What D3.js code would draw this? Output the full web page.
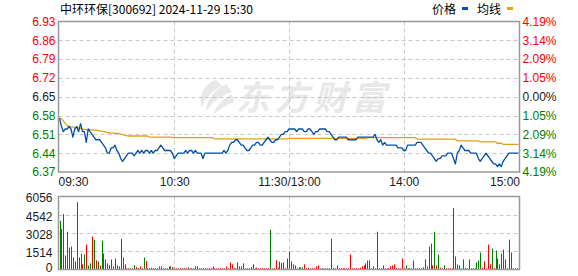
<!DOCTYPE html>
<html>
<head>
<meta charset="utf-8">
<script src="https://cdn.jsdelivr.net/npm/d3@7"></script>
<style>
  body { margin: 0; background: #fff; }
  svg { display: block; }
  text { font-family: "Liberation Sans", Arial, sans-serif; font-size: 12px; }
</style>
</head>
<body>
<svg id="svg" width="578" height="276"></svg>
<script>
// data (one value per minute, 241 minutes)
const TITLE = "中环环保[300692] 2024-11-29 15:30";
const PREV_CLOSE = 6.65;
const priceTicks = [6.93, 6.86, 6.79, 6.72, 6.65, 6.58, 6.51, 6.44, 6.37];
const pctTicks = ["4.19%", "3.14%", "2.09%", "1.05%", "0.00%", "1.05%", "2.09%", "3.14%", "4.19%"];
const volTicks = [0, 1514, 3028, 4542, 6056];
const timeIdx = [0, 60, 120, 180, 240];
const timeLabels = ["09:30", "10:30", "11:30/13:00", "14:00", "15:00"];

const price = [
  6.57, 6.54, 6.52, 6.53, 6.53, 6.54, 6.53, 6.50, 6.53, 6.54,
  6.52, 6.55, 6.52, 6.52, 6.48, 6.53, 6.52, 6.51, 6.50, 6.49,
  6.49, 6.49, 6.48, 6.47, 6.46, 6.44, 6.44, 6.46, 6.46, 6.47,
  6.45, 6.44, 6.42, 6.41, 6.42, 6.43, 6.44, 6.44, 6.44, 6.43,
  6.44, 6.45, 6.44, 6.45, 6.44, 6.45, 6.45, 6.44, 6.45, 6.44,
  6.45, 6.45, 6.46, 6.47, 6.46, 6.45, 6.45, 6.45, 6.45, 6.44,
  6.42, 6.43, 6.44, 6.44, 6.44, 6.44, 6.45, 6.44, 6.45, 6.45,
  6.44, 6.45, 6.44, 6.44, 6.44, 6.42, 6.44, 6.44, 6.44, 6.44,
  6.44, 6.44, 6.44, 6.44, 6.44, 6.44, 6.45, 6.44, 6.45, 6.47,
  6.48, 6.48, 6.49, 6.49, 6.48, 6.47, 6.47, 6.46, 6.45, 6.45,
  6.46, 6.47, 6.47, 6.48, 6.48, 6.47, 6.47, 6.48, 6.49, 6.50,
  6.49, 6.48, 6.48, 6.49, 6.49, 6.50, 6.51, 6.51, 6.52, 6.52,
  6.53, 6.53, 6.53, 6.53, 6.52, 6.53, 6.53, 6.53, 6.52, 6.52,
  6.53, 6.53, 6.52, 6.51, 6.52, 6.52, 6.53, 6.53, 6.53, 6.53,
  6.52, 6.52, 6.51, 6.50, 6.49, 6.49, 6.50, 6.50, 6.50, 6.50,
  6.50, 6.49, 6.49, 6.49, 6.49, 6.49, 6.50, 6.50, 6.50, 6.50,
  6.50, 6.50, 6.50, 6.50, 6.50, 6.51, 6.49, 6.48, 6.49, 6.47,
  6.48, 6.47, 6.47, 6.47, 6.47, 6.47, 6.47, 6.46, 6.46, 6.46,
  6.45, 6.45, 6.47, 6.47, 6.47, 6.47, 6.47, 6.48, 6.48, 6.48,
  6.47, 6.46, 6.45, 6.44, 6.44, 6.43, 6.42, 6.41, 6.42, 6.42,
  6.43, 6.43, 6.43, 6.44, 6.44, 6.44, 6.42, 6.40, 6.44, 6.45,
  6.47, 6.46, 6.45, 6.45, 6.45, 6.44, 6.44, 6.44, 6.44, 6.42,
  6.41, 6.42, 6.43, 6.44, 6.43, 6.42, 6.41, 6.40, 6.40, 6.39,
  6.40, 6.39, 6.41, 6.42, 6.43, 6.44, 6.44, 6.44, 6.44, 6.44, 6.44
];

const avgPrice = [
  6.571, 6.568, 6.560, 6.550, 6.543, 6.540, 6.538, 6.538, 6.536, 6.535,
  6.534, 6.532, 6.530, 6.528, 6.528, 6.528, 6.528, 6.527, 6.526, 6.526,
  6.525, 6.523, 6.522, 6.521, 6.519, 6.517, 6.516, 6.515, 6.515, 6.514,
  6.514, 6.514, 6.511, 6.509, 6.507, 6.505, 6.504, 6.504, 6.504, 6.504,
  6.504, 6.504, 6.504, 6.504, 6.504, 6.504, 6.504, 6.500, 6.500, 6.500,
  6.500, 6.500, 6.500, 6.500, 6.500, 6.500, 6.500, 6.500, 6.500, 6.498,
  6.498, 6.498, 6.498, 6.498, 6.498, 6.498, 6.498, 6.498, 6.498, 6.498,
  6.498, 6.498, 6.498, 6.498, 6.498, 6.498, 6.498, 6.498, 6.498, 6.498,
  6.498, 6.493, 6.493, 6.493, 6.493, 6.493, 6.493, 6.493, 6.493, 6.493,
  6.493, 6.493, 6.493, 6.493, 6.493, 6.493, 6.493, 6.493, 6.493, 6.493,
  6.493, 6.493, 6.493, 6.493, 6.493, 6.493, 6.493, 6.493, 6.493, 6.493,
  6.493, 6.493, 6.493, 6.493, 6.493, 6.493, 6.493, 6.493, 6.493, 6.493,
  6.495, 6.495, 6.495, 6.495, 6.495, 6.495, 6.495, 6.495, 6.495, 6.495,
  6.495, 6.495, 6.495, 6.495, 6.495, 6.495, 6.495, 6.495, 6.495, 6.495,
  6.495, 6.495, 6.495, 6.495, 6.495, 6.495, 6.495, 6.495, 6.495, 6.495,
  6.495, 6.495, 6.495, 6.495, 6.495, 6.495, 6.495, 6.495, 6.495, 6.495,
  6.495, 6.498, 6.498, 6.498, 6.498, 6.498, 6.498, 6.498, 6.498, 6.498,
  6.498, 6.498, 6.498, 6.498, 6.498, 6.498, 6.498, 6.498, 6.498, 6.498,
  6.498, 6.498, 6.498, 6.498, 6.498, 6.498, 6.498, 6.492, 6.492, 6.492,
  6.492, 6.492, 6.492, 6.492, 6.492, 6.492, 6.492, 6.492, 6.492, 6.492,
  6.492, 6.492, 6.492, 6.492, 6.492, 6.492, 6.492, 6.492, 6.486, 6.486,
  6.486, 6.486, 6.486, 6.486, 6.486, 6.486, 6.486, 6.486, 6.486, 6.486,
  6.482, 6.482, 6.482, 6.482, 6.482, 6.482, 6.482, 6.482, 6.482, 6.477,
  6.477, 6.477, 6.473, 6.473, 6.473, 6.473, 6.473, 6.473, 6.473, 6.473, 6.473
];

const volume = [
  4040, 3360, 4590, 1130, 3110, 1790, 1870, 960, 630, 5580,
  960, 1290, 390, 1210, 2040, 280, 470, 2700, 2450, 720,
  630, 300, 2370, 1290, 800, 470, 330, 800, 220, 880,
  300, 220, 2530, 960, 390, 60, 60, 60, 60, 330,
  160, 80, 220, 60, 960, 660, 60, 80, 110, 60,
  60, 60, 220, 220, 60, 60, 60, 220, 220, 160,
  60, 60, 60, 60, 60, 60, 60, 140, 60, 60,
  60, 220, 220, 60, 60, 60, 60, 60, 60, 60,
  220, 60, 60, 30, 60, 60, 60, 220, 60, 550,
  385, 60, 60, 550, 220, 220, 470, 60, 60, 60,
  165, 385, 60, 110, 60, 60, 60, 60, 60, 60,
  3270, 60, 60, 715, 110, 630, 500, 550, 60, 880,
  1460, 630, 385, 300, 60, 140, 140, 140, 385, 60,
  110, 60, 60, 60, 220, 300, 60, 60, 60, 60,
  60, 60, 2530, 110, 60, 300, 60, 60, 60, 60,
  60, 60, 1210, 60, 60, 60, 60, 110, 220, 300,
  470, 715, 715, 60, 220, 60, 3110, 60, 60, 300,
  60, 60, 60, 220, 300, 385, 60, 60, 60, 880,
  60, 300, 60, 60, 60, 715, 60, 60, 60, 60,
  140, 800, 220, 1870, 2120, 300, 3110, 300, 1210, 110,
  60, 300, 60, 60, 60, 60, 5090, 1045, 385, 300,
  60, 800, 110, 60, 800, 60, 60, 60, 550, 715,
  1375, 110, 630, 60, 2035, 385, 1705, 80, 1540, 880,
  385, 1290, 1620, 800, 60, 2450, 1375, 60, 60, 60, 3440
];

// 1 = up minute (red), 0 = down minute (green)
const volUp = [
  0,1,0,1,1,0,1,1,0,1, 0,1,1,0,1,0,0,1,0,1, 0,1,0,0,0,1,0,1,1,0,
  0,0,0,1,1,1,1,0,1,0, 1,0,1,1,0,1,1,1,0,0, 1,0,1,0,1,1,0,0,0,1,
  0,1,0,1,0,1,1,0,1,0, 1,0,0,1,1,1,1,1,1,1, 1,1,1,1,1,1,0,1,1,1,
  1,1,1,1,0,1,1,0,0,1, 1,1,1,1,0,1,1,1,1,1, 0,1,1,1,1,1,1,1,1,1,
  1,1,0,1,1,0,0,0,1,1, 1,0,1,1,1,1,1,0,1,0, 1,1,0,0,1,1,1,1,1,1,
  1,1,1,1,1,1,1,1,1,1, 0,1,0,1,1,1,0,0,1,0, 1,0,1,1,1,1,1,1,1,1,
  1,0,1,1,1,1,1,1,1,1, 0,0,1,0,0,1,0,1,0,1, 1,0,1,1,1,1,0,0,1,1,
  1,1,0,1,1,1,1,1,0,0, 0,1,1,1,1,1,0,1,0,1, 1,0,1,1,1,1,1,1,0,1,1
];

const svg = d3.select("#svg");

//Layout
const LEFT = 58.5, RIGHT = 519.5;
const P_TOP = 21.5, P_BOT = 172;
const V_TOP = 196.5, V_BOT = 269.5;

const RED = "#ff0000", GREEN = "#008000", DARK = "#1c1c1c";
const BLUE = "#0450a8", GOLD = "#e0a21a";

const x = d3.scaleLinear().domain([0, 240]).range([59.5, 518.5]);
const y = d3.scaleLinear().domain([6.37, 6.93]).range([P_BOT, P_TOP]);
const yv = d3.scaleLinear().domain([0, 6056]).range([V_BOT - 0.5, V_TOP]);

//Watermark
const wm = svg.append("g").attr("fill", "#e8e8e8");
wm.append("path")
  .attr("d", "M216,80 C204,84 198,96 202,108 C204,100 210,92 222,86 Z M226,84 C214,90 206,100 206,112 C212,102 220,96 232,92 Z M232,94 C222,100 214,108 214,114 C222,108 228,104 234,102 Z");
wm.append("text")
  .attr("x", 236).attr("y", 110)
  .attr("font-weight", "bold")
  .attr("font-style", "italic")
  .attr("textLength", 150)
  .style("font-family", "Noto Sans CJK SC")
  .style("font-size", "34px")
  .text("东方财富");

//Grid
function hGrid(scale, ticks) {
  svg.append("g").selectAll("line")
    .data(ticks)
    .enter().append("line")
    .attr("x1", LEFT).attr("x2", RIGHT)
    .attr("y1", d => Math.round(scale(d)) + 0.5)
    .attr("y2", d => Math.round(scale(d)) + 0.5)
    .attr("stroke", "#c8c8c8").attr("stroke-dasharray", "4,3");
}
hGrid(y, priceTicks.slice(1, -1));
hGrid(yv, volTicks.slice(1, -1));

[[P_TOP, P_BOT], [V_TOP, V_BOT]].forEach(([t, b]) => {
  svg.append("g").selectAll("line")
    .data(timeIdx.slice(1, -1))
    .enter().append("line")
    .attr("x1", d => Math.round(x(d)) + 0.5).attr("x2", d => Math.round(x(d)) + 0.5)
    .attr("y1", t).attr("y2", b)
    .attr("stroke", "#c8c8c8").attr("stroke-dasharray", "4,3");
});

//Volume bars
svg.append("g").selectAll("rect")
  .data(volume)
  .enter().append("rect")
  .attr("x", (d, i) => Math.round(x(i)))
  .attr("width", 1)
  .attr("y", d => yv(d))
  .attr("height", d => Math.max(0.6, yv(0) - yv(d)))
  .attr("fill", (d, i) => volUp[i] ? RED : GREEN);

//Lines
const line = d3.line().x((d, i) => x(i)).y(d => y(d));
svg.append("path")
  .attr("d", line(avgPrice))
  .attr("fill", "none").attr("stroke", GOLD).attr("stroke-width", 1.3);
svg.append("path")
  .attr("d", line(price))
  .attr("fill", "none").attr("stroke", BLUE).attr("stroke-width", 1.3)
  .attr("stroke-linejoin", "round");

//Frames
[[P_TOP, P_BOT], [V_TOP, V_BOT]].forEach(([t, b]) => {
  svg.append("rect")
    .attr("x", LEFT).attr("y", t)
    .attr("width", RIGHT - LEFT).attr("height", b - t)
    .attr("fill", "none").attr("stroke", "#999").attr("stroke-width", 1.5);
});

//Axes
function tickColor(v) {
  return Math.abs(v - PREV_CLOSE) < 0.001 ? DARK : (v > PREV_CLOSE ? RED : GREEN);
}
const leftAxis = svg.append("g")
  .attr("transform", `translate(${LEFT},0)`)
  .call(d3.axisLeft(y).tickValues(priceTicks).tickSize(0).tickPadding(3).tickFormat(d3.format(".2f")));
leftAxis.select(".domain").remove();
leftAxis.selectAll("text").attr("fill", d => tickColor(d)).style("font-size", "12px");

const rightAxis = svg.append("g")
  .attr("transform", `translate(${RIGHT},0)`)
  .call(d3.axisRight(y).tickValues(priceTicks).tickSize(0).tickPadding(3).tickFormat((d, i) => pctTicks[i]));
rightAxis.select(".domain").remove();
rightAxis.selectAll("text").attr("fill", d => tickColor(d)).style("font-size", "12px");

const volAxis = svg.append("g")
  .attr("transform", `translate(${LEFT},0)`)
  .call(d3.axisLeft(yv).tickValues(volTicks).tickSize(0).tickPadding(6).tickFormat(d3.format("d")));
volAxis.select(".domain").remove();
// keep the bottom "0" inside the picture
volAxis.selectAll("text").attr("fill", DARK)
  .attr("dy", d => d === 0 ? "0.2em" : "0.45em").style("font-size", "12px");

const timeAxis = svg.append("g")
  .attr("transform", `translate(0,${P_BOT})`)
  .call(d3.axisBottom(x).tickValues(timeIdx).tickSize(0).tickPadding(5).tickFormat((d, i) => timeLabels[i]));
timeAxis.select(".domain").remove();
timeAxis.selectAll("text").attr("fill", DARK).style("font-size", "12px")
  .attr("text-anchor", (d, i) => i === 0 ? "start" : (i === timeIdx.length - 1 ? "end" : "middle"))
  .attr("x", (d, i) => i === 0 ? -1.5 : (i === timeIdx.length - 1 ? 1 : 0));

//Title and legend
svg.append("text")
  .attr("x", 60).attr("y", 14)
  .style("font-family", "'Noto Sans CJK SC'").style("font-size", "12px")
  .attr("fill", "#000")
  .text(TITLE);

const legend = [["价格", BLUE, 432], ["均线", GOLD, 477]];
legend.forEach(([name, color, lx]) => {
  svg.append("text")
    .attr("x", lx).attr("y", 14)
    .style("font-family", "'Noto Sans CJK SC'").style("font-size", "12px")
    .attr("fill", "#000").text(name);
  svg.append("rect")
    .attr("x", lx + 30).attr("y", 7).attr("width", 6).attr("height", 3)
    .attr("fill", color);
});
</script>
</body>
</html>
